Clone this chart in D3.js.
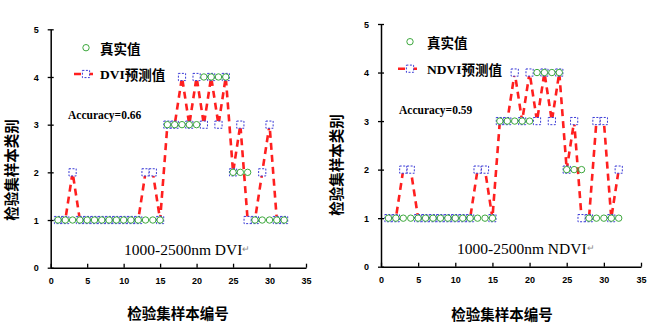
<!DOCTYPE html>
<html>
<head>
<meta charset="utf-8">
<script src="https://cdn.jsdelivr.net/npm/d3@7/dist/d3.min.js"></script>
<style>
  html, body { margin: 0; padding: 0; background: #fff; }
  svg { display: block; }
  .tick text { font-family: "Liberation Sans", Arial, sans-serif; font-weight: bold; font-size: 9px; fill: #000; }
  .cjk { font-family: "Noto Sans CJK SC", sans-serif; font-weight: bold; }
  .serif { font-family: "Liberation Serif", "Times New Roman", serif; }
</style>
</head>
<body>
<svg id="chart" width="650" height="324"></svg>
<script>
// Validation-set sample numbers
const sampleIds = [1, 2, 3, 4, 5, 6, 7, 8, 9, 10, 11, 12, 13, 14, 15, 16,
                   17, 18, 19, 20, 21, 22, 23, 24, 25, 26, 27, 28, 29, 30, 31, 32];
// Actual class of each sample
const trueValues = [1, 1, 1, 1, 1, 1, 1, 1, 1, 1, 1, 1, 1, 1, 1, 3,
                    3, 3, 3, 3, 4, 4, 4, 4, 2, 2, 2, 1, 1, 1, 1, 1];
// Class predicted from the DVI index
const dviPred = [1, 1, 2, 1, 1, 1, 1, 1, 1, 1, 1, 1, 2, 2, 1, 3,
                 3, 4, 3, 4, 3, 4, 3, 4, 2, 3, 1, 1, 2, 3, 1, 1];
// Class predicted from the NDVI index
const ndviPred = [1, 1, 2, 2, 1, 1, 1, 1, 1, 1, 1, 1, 2, 2, 1, 3,
                  3, 4, 3, 4, 3, 4, 3, 4, 2, 3, 1, 1, 3, 3, 1, 2];
const xTicks = [0, 5, 10, 15, 20, 25, 30, 35];
const yTicks = [0, 1, 2, 3, 4, 5];
const panelNames = ["DVI", "NDVI"];
const accuracies = ["0.66", "0.59"];

const svg = d3.select("#chart");

const panels = [
  { name: panelNames[0], pred: dviPred, acc: accuracies[0],
    x0: 50.7, x1: 306, y0: 267.7, y1: 29.3,
    yTitleX: 10, yTitleY: 170, xTitleX: 178, xTitleY: 312,
    legX: 86, leg1Y: 47.7, leg2Y: 74, legTextX: 100,
    accX: 68, accY: 115, subX: 124, subY: 249 },
  { name: panelNames[1], pred: ndviPred, acc: accuracies[1],
    x0: 381, x1: 641, y0: 266.7, y1: 24,
    yTitleX: 335, yTitleY: 165, xTitleX: 502, xTitleY: 313,
    legX: 410, leg1Y: 41.7, leg2Y: 68.7, legTextX: 427,
    accX: 399, accY: 110, subX: 457, subY: 248 }
];

const red = "#ff1f1f", green = "#3da83d", blue = "#3a3ad6";

function squarePath(cx, cy, s) {
  return `M${cx - s},${cy - s}H${cx + s}V${cy + s}H${cx - s}Z`;
}

panels.forEach(p => {
  const g = svg.append("g");
  const x = d3.scaleLinear().domain([0, 35]).range([p.x0, p.x1]);
  const y = d3.scaleLinear().domain([0, 5]).range([p.y0, p.y1]);

  // Axes
  const xAxis = d3.axisBottom(x).tickValues(xTicks).tickFormat(d3.format("d"))
    .tickSizeInner(-4).tickSizeOuter(0).tickPadding(10);
  const gx = g.append("g").attr("transform", `translate(0,${p.y0})`).call(xAxis);
  gx.select(".domain").attr("stroke", "#000").attr("stroke-width", 1.5);
  gx.selectAll(".tick line").attr("stroke", "#000").attr("stroke-width", 1.3);

  const yAxis = d3.axisLeft(y).tickValues(yTicks).tickFormat(d3.format("d"))
    .tickSizeInner(3).tickSizeOuter(0).tickPadding(9);
  const gy = g.append("g").attr("transform", `translate(${p.x0},0)`).call(yAxis);
  gy.select(".domain").attr("stroke", "#000").attr("stroke-width", 1.5);
  gy.selectAll(".tick line").attr("stroke", "#000").attr("stroke-width", 1.3).attr("x2", 3).attr("x1", -3);
  gy.selectAll(".tick text").attr("dy", "0.35em");

  // Axis titles
  g.append("text").attr("class", "cjk")
    .attr("transform", `translate(${p.yTitleX},${p.yTitleY}) rotate(-90)`)
    .attr("text-anchor", "middle").attr("dominant-baseline", "central")
    .attr("font-size", 14.5).text("检验集样本类别");
  g.append("text").attr("class", "cjk")
    .attr("x", p.xTitleX).attr("y", p.xTitleY)
    .attr("text-anchor", "middle").attr("dominant-baseline", "central")
    .attr("font-size", 14.5).text("检验集样本编号");

  // Predicted series: red dashed line
  const line = d3.line().x((d, i) => x(sampleIds[i])).y(d => y(d));
  g.append("path").datum(p.pred)
    .attr("d", line).attr("fill", "none")
    .attr("stroke", red).attr("stroke-width", 2.6)
    .attr("stroke-dasharray", "7,5");

  // Predicted markers: dashed blue squares
  g.append("g").selectAll("path").data(p.pred).join("path")
    .attr("d", (d, i) => squarePath(x(sampleIds[i]), y(d), 3.6))
    .attr("fill", "#fff").attr("stroke", blue).attr("stroke-width", 1)
    .attr("stroke-dasharray", "2,1.5");

  // Actual values: green circles
  g.append("g").selectAll("circle").data(trueValues).join("circle")
    .attr("cx", (d, i) => x(sampleIds[i])).attr("cy", d => y(d))
    .attr("r", 3.2).attr("fill", "none")
    .attr("stroke", green).attr("stroke-width", 1);

  // Legend
  g.append("circle").attr("cx", p.legX).attr("cy", p.leg1Y).attr("r", 3.2)
    .attr("fill", "none").attr("stroke", green).attr("stroke-width", 1);
  g.append("text").attr("class", "cjk").attr("x", p.legTextX).attr("y", p.leg1Y)
    .attr("dominant-baseline", "central").attr("font-size", 13.5).text("真实值");

  g.append("line").attr("x1", p.legX - 12).attr("x2", p.legX + 12)
    .attr("y1", p.leg2Y).attr("y2", p.leg2Y)
    .attr("stroke", red).attr("stroke-width", 2.6).attr("stroke-dasharray", "7,5");
  g.append("path").attr("d", squarePath(p.legX, p.leg2Y, 3.6))
    .attr("fill", "#fff").attr("stroke", blue).attr("stroke-width", 1)
    .attr("stroke-dasharray", "2,1.5");
  const lt = g.append("text").attr("x", p.legTextX).attr("y", p.leg2Y)
    .attr("dominant-baseline", "central").attr("font-size", 13.5).attr("font-weight", "bold");
  lt.append("tspan").attr("class", "serif").attr("font-weight", "bold").text(p.name);
  lt.append("tspan").attr("class", "cjk").text("预测值");

  // Accuracy
  g.append("text").attr("class", "serif").attr("x", p.accX).attr("y", p.accY)
    .attr("dominant-baseline", "central").attr("font-size", 11.5).attr("font-weight", "bold")
    .text("Accuracy=" + p.acc);

  // Subtitle
  const st = g.append("text").attr("class", "serif").attr("x", p.subX).attr("y", p.subY)
    .attr("dominant-baseline", "central").attr("font-size", 15.5);
  st.append("tspan").text("1000-2500nm " + p.name);
  st.append("tspan").attr("fill", "#888").attr("font-size", 9).text("↵");
});
</script>
</body>
</html>
